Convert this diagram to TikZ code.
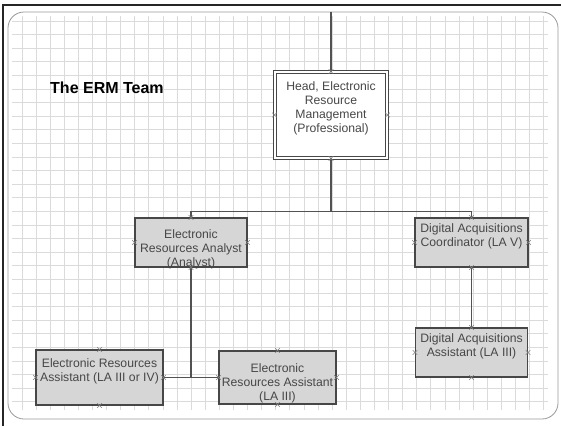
\documentclass[tikz,border=0pt]{standalone}
\usepackage{fontspec}
\setmainfont{Liberation Sans}
\usetikzlibrary{shapes.misc}
\begin{document}
\begin{tikzpicture}[x=1pt,y=-1pt,
  gridst/.style={draw=black!14, line width=0.9pt},
  boxst/.style={draw=black!72, line width=1.1pt, fill=black!16, rectangle, inner sep=0pt},
  headst/.style={draw=black!72, line width=0.9pt, double=white, double distance=2pt, fill=white, rectangle, inner sep=0pt},
  txt/.style={text=black!72, font=\fontsize{12.2}{14}\selectfont, align=center, inner sep=0pt},
  conn/.style={draw=black!68, line width=1.3pt},
  xmark/.style={cross out, draw=black!50, line width=0.6pt, minimum size=4pt, inner sep=0pt}]
\useasboundingbox (0,0) rectangle (561,426);
\fill[white] (0,0) rectangle (561,426);
% grid
\foreach \i in {0,...,28} {\draw[gridst] (12,{21+13.6*\i}) -- (548,{21+13.6*\i});}
\foreach \i in {0,...,37} {\draw[gridst] ({22+14.1*\i},16) -- ({22+14.1*\i},410);}
% frame
\draw[black!85, line width=2.5pt] (3,426) -- (3,5) -- (561,5);
\draw[black!40, line width=0.8pt, rounded corners=16pt] (8,12) rectangle (558,419);
% title
\node[font=\bfseries\fontsize{16}{18}\selectfont, anchor=west, inner sep=0pt] (title) at (50,88) {The ERM Team};
% boxes
\node[headst, minimum width=112pt, minimum height=86pt] (head) at (331,115) {};
\node[boxst, minimum width=112pt, minimum height=49pt] (analyst) at (191,242.5) {};
\node[boxst, minimum width=113pt, minimum height=49pt] (dac) at (471.5,242.5) {};
\node[boxst, minimum width=112pt, minimum height=49pt] (daa) at (471.5,352.5) {};
\node[boxst, minimum width=127pt, minimum height=55pt] (era1) at (99.5,377.5) {};
\node[boxst, minimum width=117pt, minimum height=53pt] (era2) at (277.5,377.5) {};
% texts
\node[txt] (headtxt) at (331,108) {Head, Electronic\\Resource\\Management\\(Professional)};
\node[txt] (analysttxt) at (191,249) {Electronic\\Resources Analyst\\(Analyst)};
\node[txt] (dactxt) at (471.5,236.5) {Digital Acquisitions\\Coordinator (LA V)};
\node[txt] (daatxt) at (471.5,346.5) {Digital Acquisitions\\Assistant (LA III)};
\node[txt] (era1txt) at (99.5,371.5) {Electronic Resources\\Assistant (LA III or IV)};
\node[txt] (era2txt) at (277.5,383) {Electronic\\Resources Assistant\\(LA III)};
% connectors
\coordinate (topc) at (331,12);
\coordinate (junc) at (331,212);
\draw[conn] (topc) -- (head.north);
\draw[conn] (head.south) -- (junc);
\draw[conn] (analyst.north) -- ([yshift=6pt]analyst.north) -| (dac.north);
\draw[conn] (analyst.south) |- (era1.east);
\draw[conn] (era1.east) -- (era2.west);
\draw[conn] (dac.south) -- (daa.north);
% connection point marks
\foreach \n in {head,analyst,dac,daa,era1,era2} {
  \foreach \a in {north,south,east,west} {
    \node[xmark] (\n-\a-x) at (\n.\a) {};
  }
}
\end{tikzpicture}
\end{document}
